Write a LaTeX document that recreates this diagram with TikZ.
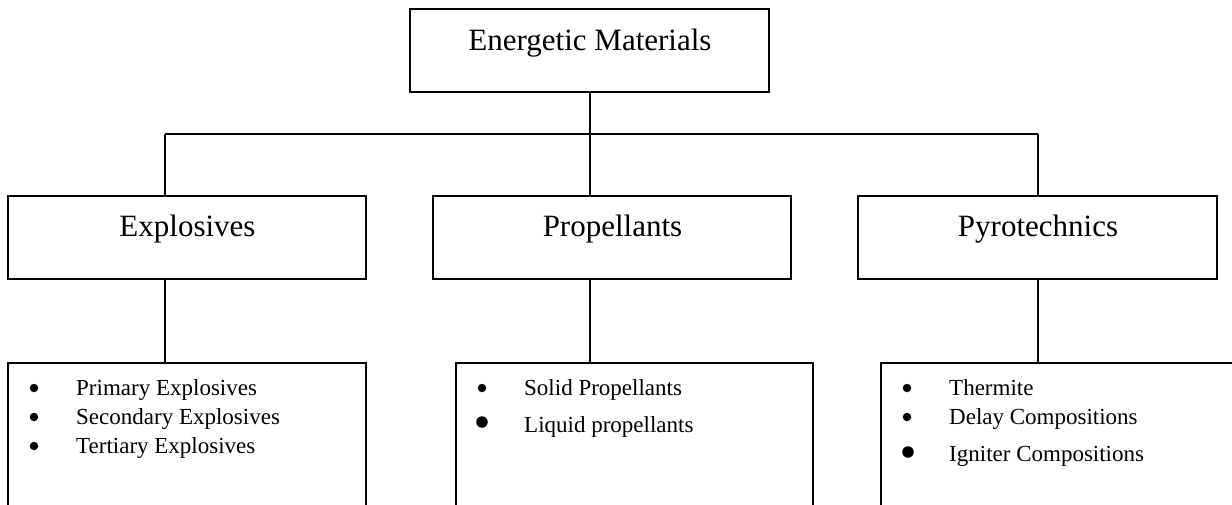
\documentclass[tikz,border=0pt]{standalone}
\usepackage{fontspec}
\setmainfont{Liberation Serif}
\begin{document}
\begin{tikzpicture}[x=1pt,y=-1pt,
  box/.style={draw,line width=1.7pt,inner sep=0pt,minimum width=#1,minimum height=83pt},
  lowbox/.style={draw,line width=1.7pt,inner sep=0pt,minimum width=#1,minimum height=180pt},
  conn/.style={line width=1.7pt},
  big/.style={inner sep=0pt,anchor=base,font=\fontsize{31}{37}\selectfont},
  item/.style={inner sep=0pt,anchor=base west,font=\fontsize{23}{28}\selectfont},
  bul/.style={circle,fill,inner sep=0pt,minimum size=8.5pt},
  bigbul/.style={circle,fill,inner sep=0pt,minimum size=11.5pt}]
\useasboundingbox (0,0) rectangle (1232,504);
\clip (0,0) rectangle (1232,504);
% boxes
\node[box=359pt] (em) at (589.5,50.5) {};
\node[box=358pt] (exp) at (187,237.5) {};
\node[box=358pt] (pro) at (612,237.5) {};
\node[box=359pt] (pyr) at (1037.5,237.5) {};
\node[lowbox=358pt,anchor=north] (expl) at (187,362) {};
\node[lowbox=357pt,anchor=north] (prol) at (634.5,362) {};
\node[lowbox=370pt,anchor=north west] (pyrl) at (880,362) {};
% titles
\node[big] (tem) at (590,50) {Energetic Materials};
\node[big] (texp) at (187.5,236) {Explosives};
\node[big] (tpro) at (612.5,236) {Propellants};
\node[big] (tpyr) at (1038,236) {Pyrotechnics};
% connectors
\coordinate (hl) at (165,134);
\coordinate (hm) at (590,134);
\coordinate (hr) at (1038,134);
\draw[conn] (hl) -- (hr);
\draw[conn] (em.south -| hm) -- (hm);
\draw[conn] (hl) -- (hl |- exp.north);
\draw[conn] (hm) -- (hm |- pro.north);
\draw[conn] (hr) -- (hr |- pyr.north);
\draw[conn] (exp.south -| hl) -- (expl.north -| hl);
\draw[conn] (pro.south -| hm) -- (prol.north -| hm);
\draw[conn] (pyr.south -| hr) -- (pyrl.north -| hr);
% explosives items
\node[bul] (b1) at (34,388) {};
\node[bul] (b2) at (34,417) {};
\node[bul] (b3) at (34,446) {};
\node[item] (i1) at (76,395) {Primary Explosives};
\node[item] (i2) at (76,424) {Secondary Explosives};
\node[item] (i3) at (76,453) {Tertiary Explosives};
% propellants items
\node[bul] (b4) at (482,388) {};
\node[bigbul] (b5) at (482,422) {};
\node[item] (i4) at (524,395) {Solid Propellants};
\node[item] (i5) at (524,432) {Liquid propellants};
% pyrotechnics items
\node[bul] (b6) at (907,388) {};
\node[bul] (b7) at (907,417) {};
\node[bigbul] (b8) at (908,452) {};
\node[item] (i6) at (949,395) {Thermite};
\node[item] (i7) at (949,424) {Delay Compositions};
\node[item] (i8) at (949,461) {Igniter Compositions};
\end{tikzpicture}
\end{document}
